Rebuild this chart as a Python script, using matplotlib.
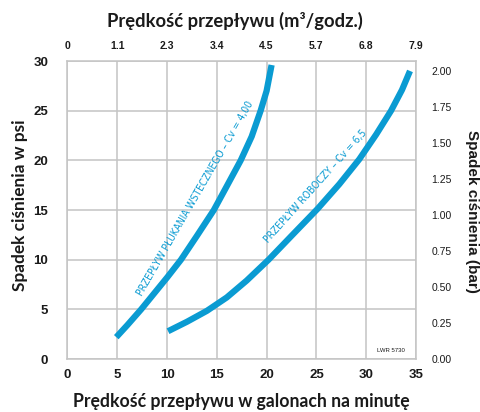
import numpy as np
import matplotlib
matplotlib.use("Agg")
import matplotlib.pyplot as plt

# flow (gpm) vs pressure drop (psi)
backwash_gpm = [4.9, 6.0, 7.4, 8.7, 10.0, 11.4, 13.0, 14.7, 16.0, 17.4, 18.5, 19.4, 20.0, 20.5]
backwash_psi = [2.2, 3.4, 5.0, 6.6, 8.2, 10.0, 12.4, 15.0, 17.4, 20.0, 22.4, 25.0, 27.0, 29.6]

service_gpm = [10.1, 12.0, 14.0, 16.0, 18.0, 20.2, 22.5, 25.1, 27.3, 29.3, 31.0, 32.5, 33.6, 34.4]
service_psi = [2.8, 3.75, 4.85, 6.2, 7.9, 10.0, 12.4, 15.1, 17.6, 20.1, 22.6, 25.0, 27.1, 29.0]

gpm_ticks = [0, 5, 10, 15, 20, 25, 30, 35]
m3h_labels = ["0", "1.1", "2.3", "3.4", "4.5", "5.7", "6.8", "7.9"]
psi_ticks = [0, 5, 10, 15, 20, 25, 30]
bar_ticks = [0, 0.25, 0.5, 0.75, 1.0, 1.25, 1.5, 1.75, 2.0]

blue = "#0a9bd2"
grid_c = "#c4c4c4"
txt = "#1a1a1a"
tickfont = ["Liberation Sans", "DejaVu Sans"]
labfont = ["Lato", "DejaVu Sans"]

fig = plt.figure(figsize=(4.81, 4.12), dpi=100)
ax = fig.add_axes([0.1403, 0.1286, 0.7245, 0.7233])

ax.plot(backwash_gpm, backwash_psi, color=blue, lw=4.5, solid_capstyle="butt",
        solid_joinstyle="round")
ax.plot(service_gpm, service_psi, color=blue, lw=4.5, solid_capstyle="butt",
        solid_joinstyle="round")

ax.set_xlim(0, 35)
ax.set_ylim(0, 30)
ax.set_xticks(gpm_ticks)
ax.set_yticks(psi_ticks)
ax.grid(True, color=grid_c, lw=1.1)
ax.set_axisbelow(True)
for s in ax.spines.values():
    s.set_color(grid_c)
    s.set_linewidth(1.1)
ax.tick_params(axis="x", length=0, pad=7, colors=txt)
ax.tick_params(axis="y", length=0, pad=14, colors=txt)
for lab in ax.get_xticklabels() + ax.get_yticklabels():
    lab.set_family(tickfont)
    lab.set_fontweight("bold")
    lab.set_fontsize(9.5)

# top axis in m3/h
top = ax.twiny()
top.set_xlim(0, 35)
top.set_xticks(gpm_ticks)
top.set_xticklabels(m3h_labels)
top.tick_params(length=0, pad=7, colors=txt)
for lab in top.get_xticklabels():
    lab.set_family(tickfont)
    lab.set_fontweight("bold")
    lab.set_fontsize(7.5)
for s in top.spines.values():
    s.set_visible(False)

# right axis in bar
right = ax.twinx()
right.set_ylim(0, 30 / 14.5)
right.set_yticks(bar_ticks)
right.set_yticklabels(["%.2f" % b for b in bar_ticks])
right.tick_params(length=0, pad=11, colors=txt)
for lab in right.get_yticklabels():
    lab.set_family(tickfont)
    lab.set_fontsize(7.5)
for s in right.spines.values():
    s.set_visible(False)

fig.text(241 / 481, 1 - 401 / 412, "Prędkość przepływu w galonach na minutę", family=labfont,
         fontsize=12.7, fontweight="bold", color=txt, ha="center", va="center")
fig.text(235 / 481, 1 - 21 / 412, "Prędkość przepływu (m³/godz.)", family=labfont,
         fontsize=13.2, fontweight="bold", color=txt, ha="center", va="center")
fig.text(20 / 481, 1 - 205 / 412, "Spadek ciśnienia w psi", family=labfont,
         fontsize=12.4, fontweight="bold", color=txt, ha="center", va="center", rotation=90)
fig.text(472 / 481, 1 - 211 / 412, "Spadek ciśnienia (bar)", family=tickfont,
         fontsize=11, fontweight="bold", color=txt,
         ha="center", va="center", rotation=-90)

ax.text(12.8, 16.2, "PRZEPŁYW PŁUKANIA WSTECZNEGO – Cv = 4,00", color=blue, fontsize=7.4,
        family="DejaVu Sans", stretch="condensed", rotation=60, rotation_mode="anchor",
        ha="center", va="center")
ax.text(24.9, 17.4, "PRZEPŁYW ROBOCZY – Cv = 6,5", color=blue, fontsize=7.4,
        family="DejaVu Sans", stretch="condensed", rotation=48, rotation_mode="anchor",
        ha="center", va="center")
ax.text(32.5, 0.86, "LWR 5730", fontsize=4.3, family=tickfont, color=txt,
        ha="center", va="center")

fig.savefig("out.png", dpi=100)
